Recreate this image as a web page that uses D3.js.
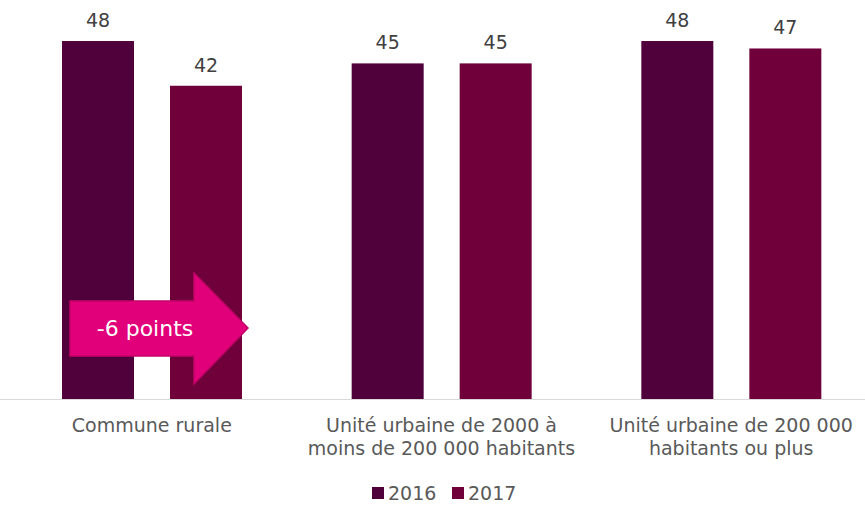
<!DOCTYPE html>
<html>
<head>
<meta charset="utf-8">
<script src="https://cdn.jsdelivr.net/npm/d3@7"></script>
<style>
  body { margin: 0; background: #fff; }
  text { font-family: "DejaVu Sans", Verdana, sans-serif; }
</style>
</head>
<body>
<script>
// data
let categories = [
  ['Commune rurale'],
  ['Unité urbaine de 2000 à', 'moins de 200 000 habitants'],
  ['Unité urbaine de 200 000', 'habitants ou plus']
];
let seriesNames = ['2016', '2017'];
let values2016 = [48, 45, 48];
let values2017 = [42, 45, 47];
let arrowLabel = '-6 points';

let width = 865;
let height = 505;
let colors = ['#50003b', '#6f0039'];

let svg = d3.select('body')
  .append('svg')
  .attr('width', width)
  .attr('height', height);

let baseY = 399;

let x0 = d3.scaleBand()
  .domain(d3.range(categories.length))
  .range([7, 876]);

// bars sit in the middle of each category, 72px wide, 36px apart
let x1 = d3.scaleBand()
  .domain(seriesNames)
  .range([55, 235])
  .paddingInner(1 / 3);

let y = d3.scaleLinear()
  .domain([0, 53.5])
  .range([baseY, 0]);

let rows = categories.map((c, i) => ({i: i, vals: [values2016[i], values2017[i]]}));

// bars
let groups = svg.selectAll('g.cat')
  .data(rows)
  .enter()
  .append('g')
  .attr('class', 'cat')
  .attr('transform', d => 'translate(' + x0(d.i) + ',0)');

groups.selectAll('rect')
  .data(d => d.vals.map((v, k) => ({name: seriesNames[k], v: v, k: k})))
  .enter()
  .append('rect')
  .attr('x', d => x1(d.name))
  .attr('y', d => y(d.v))
  .attr('width', x1.bandwidth())
  .attr('height', d => baseY - y(d.v))
  .attr('fill', d => colors[d.k]);

groups.selectAll('text.val')
  .data(d => d.vals.map((v, k) => ({name: seriesNames[k], v: v})))
  .enter()
  .append('text')
  .attr('class', 'val')
  .attr('x', d => x1(d.name) + x1.bandwidth() / 2)
  .attr('y', d => y(d.v) - 14)
  .attr('text-anchor', 'middle')
  .attr('font-size', '19px')
  .attr('fill', '#404040')
  .text(d => d.v);

// axis line
svg.append('line')
  .attr('x1', 0).attr('x2', width)
  .attr('y1', baseY + 0.5).attr('y2', baseY + 0.5)
  .attr('stroke', '#d9d9d9')
  .attr('stroke-width', 1);

// category labels
groups.each(function(d) {
  let t = d3.select(this).append('text')
    .attr('text-anchor', 'middle')
    .attr('font-size', '19px')
    .attr('fill', '#595959')
    .attr('x', x0.bandwidth() / 2)
    .attr('y', 432);
  categories[d.i].forEach((line, j) => {
    t.append('tspan')
      .attr('x', x0.bandwidth() / 2)
      .attr('dy', j === 0 ? 0 : 23)
      .text(line);
  });
});

// arrow annotation
let ax = x0(0) + x1(seriesNames[0]);
let arrow = [
  [ax + 8, 301], [194, 301], [194, 273], [248, 328],
  [194, 384], [194, 356], [ax + 8, 356]
];
svg.append('path')
  .attr('d', d3.line()(arrow) + 'Z')
  .attr('fill', '#e2007a')
  .attr('stroke', '#c4006a')
  .attr('stroke-width', 1.5);

svg.append('text')
  .attr('x', 145)
  .attr('y', 336)
  .attr('text-anchor', 'middle')
  .attr('font-family', '"Open Sans", sans-serif')
  .attr('font-size', '22px')
  .attr('fill', '#fff')
  .text(arrowLabel);

// legend
let legend = svg.append('g');
let legendX = [372, 452];
seriesNames.forEach((s, k) => {
  legend.append('rect')
    .attr('x', legendX[k])
    .attr('y', 487)
    .attr('width', 12)
    .attr('height', 12)
    .attr('fill', colors[k]);
  legend.append('text')
    .attr('x', legendX[k] + 16)
    .attr('y', 500)
    .attr('font-size', '19px')
    .attr('fill', '#595959')
    .text(s);
});
</script>
</body>
</html>
